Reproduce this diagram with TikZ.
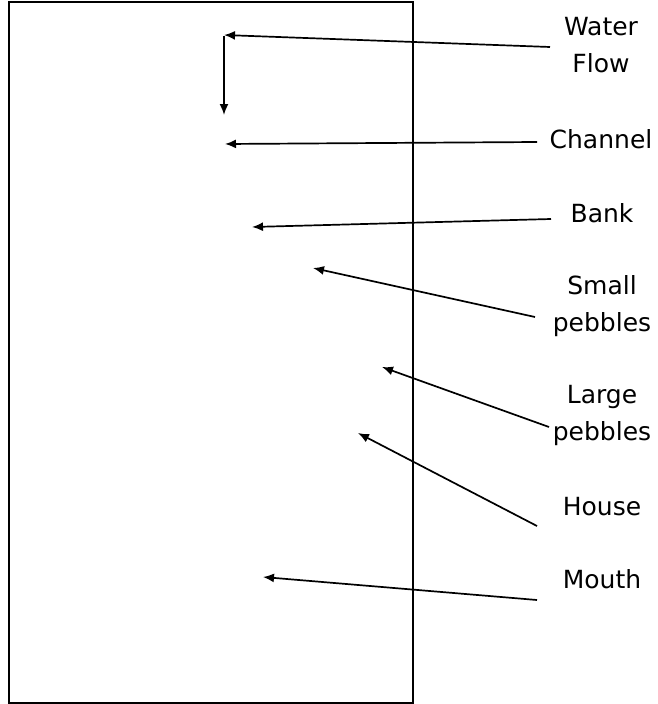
\documentclass[tikz,border=0pt]{standalone}
\usepackage{fontspec}
\setmainfont{DejaVu Sans}
\usetikzlibrary{arrows.meta}
\begin{document}
\begin{tikzpicture}[x=1pt,y=-1pt,
  lbl/.style={inner sep=0pt,anchor=base,align=center,font=\fontsize{25}{37}\selectfont},
  ptr/.style={line width=1.7pt,-{Latex[length=11pt,width=9pt]}}]
\useasboundingbox (0,0) rectangle (658,704);
\draw[line width=2pt] (8.5,1.5) rectangle (412.5,703);
% labels (base = baseline of last line)
\node[lbl] (water) at (601,72) {Water\\Flow};
\node[lbl] (channel) at (601,148) {Channel};
\node[lbl] (bank) at (602,222) {Bank};
\node[lbl] (small) at (602,331) {Small\\pebbles};
\node[lbl] (large) at (602,440) {Large\\pebbles};
\node[lbl] (house) at (602,515) {House};
\node[lbl] (mouth) at (602,588) {Mouth};
% connector ends
\coordinate (wS) at (550,47);   \coordinate (wT) at (224,35);
\coordinate (fS) at (224,36);   \coordinate (fT) at (224,115);
\coordinate (cS) at (537,142);  \coordinate (cT) at (225,144);
\coordinate (bS) at (551,219);  \coordinate (bT) at (252,227);
\coordinate (sS) at (535,317);  \coordinate (sT) at (313,268);
\coordinate (lS) at (549,427);  \coordinate (lT) at (382,367);
\coordinate (hS) at (537,526);  \coordinate (hT) at (358,433);
\coordinate (mS) at (537,600);  \coordinate (mT) at (263,577);
\draw[ptr] (wS) -- (wT);
\draw[ptr] (fS) -- (fT);
\draw[ptr] (cS) -- (cT);
\draw[ptr] (bS) -- (bT);
\draw[ptr] (sS) -- (sT);
\draw[ptr] (lS) -- (lT);
\draw[ptr] (hS) -- (hT);
\draw[ptr] (mS) -- (mT);
\end{tikzpicture}
\end{document}
